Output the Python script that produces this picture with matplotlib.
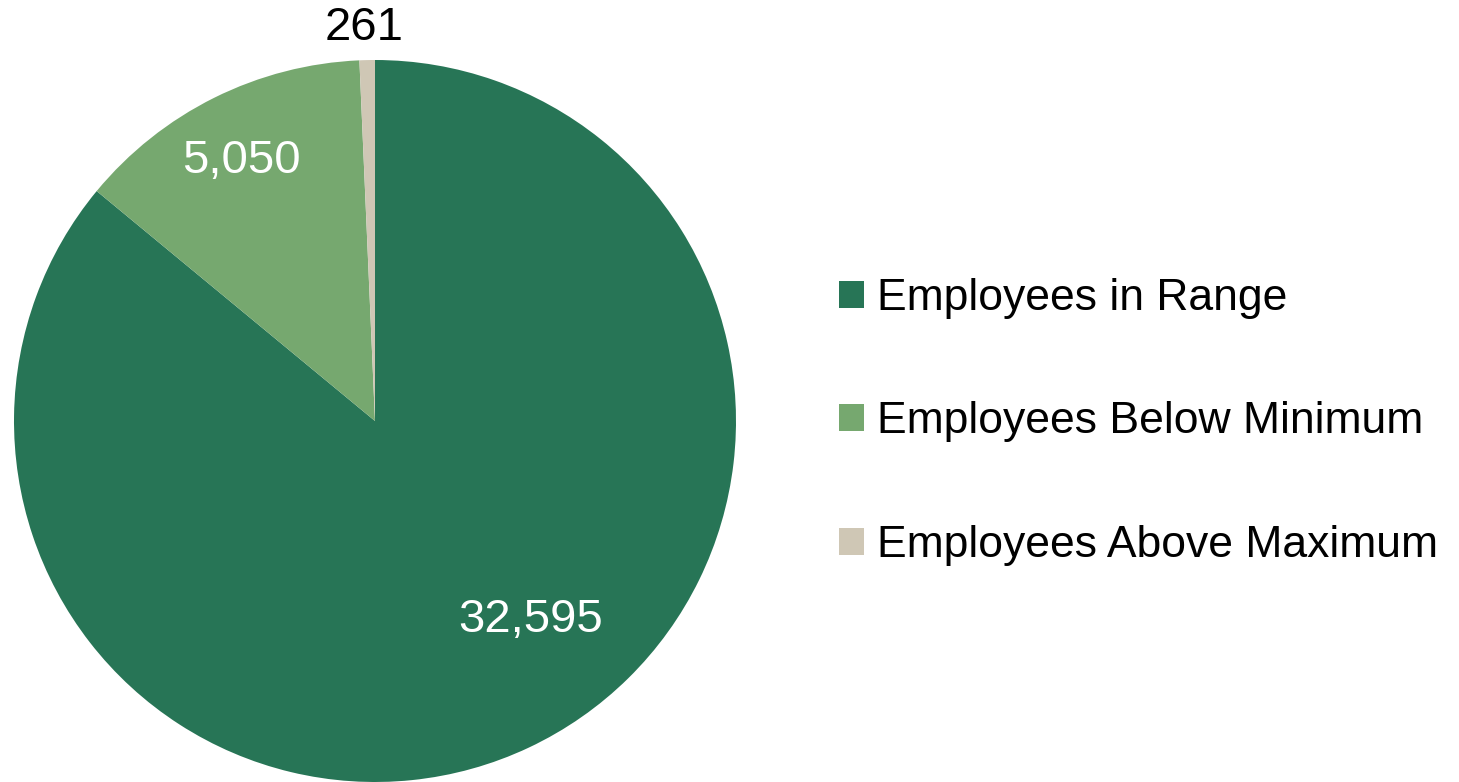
import matplotlib
matplotlib.use("Agg")
import matplotlib.pyplot as plt
from matplotlib.patches import Patch

plt.rcParams['font.family'] = ['Liberation Sans', 'DejaVu Sans']

categories = ['Employees in Range', 'Employees Below Minimum', 'Employees Above Maximum']
values = [32595, 5050, 261]
labels = ['32,595', '5,050', '261']
colors = ['#277556', '#76a86f', '#cfc7b5']
label_colors = ['white', 'white', 'black']
# label spots in pie data units (radius = 1)
label_pos = [(0.43, -0.55), (-0.37, 0.72), (-0.03, 1.09)]

fig = plt.figure(figsize=(14.59, 7.82), dpi=100)
ax = fig.add_axes([14 / 1459, 0, 722 / 1459, 722 / 782])
wedges, _ = ax.pie(values, colors=colors, startangle=90, counterclock=False,
                   radius=1, wedgeprops=dict(linewidth=0))
ax.set_xlim(-1, 1)
ax.set_ylim(-1, 1)
ax.set_aspect('equal')

for txt, (x, y), c in zip(labels, label_pos, label_colors):
    ax.text(x, y, txt, color=c, fontsize=34, ha='center', va='center')

handles = [Patch(facecolor=c, edgecolor='none') for c in colors]
fig.legend(handles, categories, loc='center left', bbox_to_anchor=(839 / 1459, 1 - 422 / 782),
           frameon=False, fontsize=32, handlelength=0.56, handleheight=0.56,
           handletextpad=0.3, labelspacing=1.86, borderaxespad=0, borderpad=0)

fig.savefig('out.png', dpi=100)
